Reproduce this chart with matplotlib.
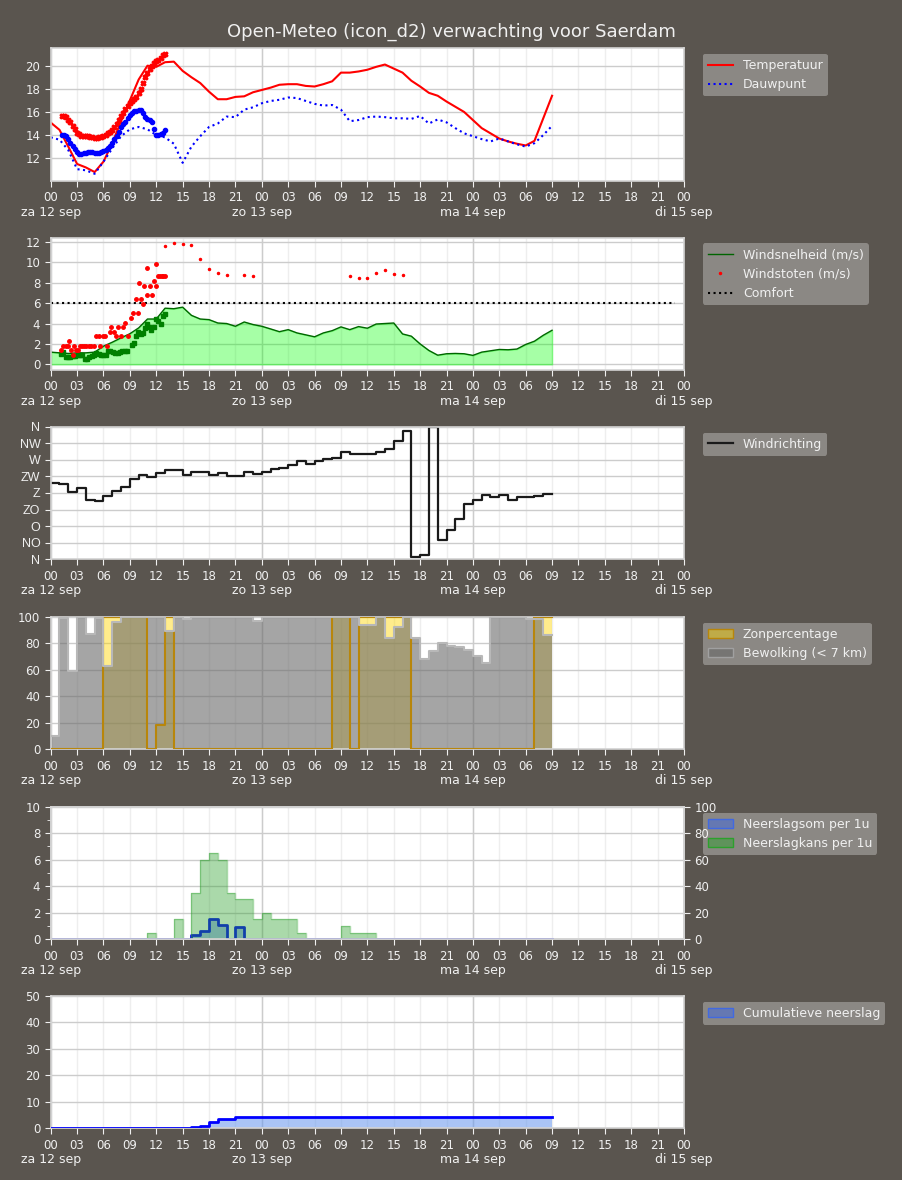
import numpy as np
import matplotlib.pyplot as plt
from matplotlib.patches import Patch

plt.rcParams['font.family'] = 'DejaVu Sans'

BG = '#5a554f'
FG = '#f0f0f0'

# hourly forecast, 12 sep 00:00 .. 14 sep 09:00
hours = np.arange(58)

temperature = [15.08, 14.45, 13.0, 11.5, 11.2, 10.8, 11.7, 13.3, 15.2, 17.0,
               18.8, 20.0, 19.9, 20.3, 20.35, 19.55, 19.0, 18.5, 17.75, 17.1,
               17.1, 17.3, 17.35, 17.7, 17.9, 18.1, 18.35, 18.4, 18.4, 18.25,
               18.2, 18.4, 18.65, 19.4, 19.4, 19.5, 19.65, 19.9, 20.1, 19.75,
               19.4, 18.7, 18.2, 17.65, 17.4, 16.9, 16.45, 16.0, 15.3, 14.6,
               14.15, 13.7, 13.45, 13.25, 13.1, 13.5, 15.45, 17.4]
dewpoint = [13.8, 13.6, 12.7, 11.05, 10.95, 10.65, 11.7, 12.85, 13.9, 14.5,
            14.7, 14.5, 14.0, 13.8, 13.25, 11.6, 13.0, 13.9, 14.7, 15.0,
            15.6, 15.55, 16.2, 16.4, 16.75, 16.95, 17.05, 17.25, 17.2, 16.95,
            16.7, 16.55, 16.6, 16.2, 15.2, 15.3, 15.55, 15.6, 15.55, 15.45,
            15.45, 15.4, 15.65, 15.0, 15.35, 15.1, 14.6, 14.15, 13.9, 13.65,
            13.45, 13.7, 13.45, 13.2, 13.0, 13.3, 14.0, 14.8]

# observations (every 15 min)
obs_hours = np.arange(1.25, 13.01, 0.25)
obs_temp = [15.65, 15.65, 15.55, 15.3, 15.1, 14.8, 14.5, 14.2,
            14.05, 13.9, 13.9, 13.9, 13.9, 13.8, 13.8, 13.75,
            13.75, 13.8, 13.8, 13.9, 14.0, 14.15, 14.25, 14.45,
            14.7, 14.95, 15.3, 15.65, 15.95, 16.25, 16.5, 16.75,
            16.95, 17.15, 17.3, 17.6, 17.95, 18.5, 19.0, 19.4,
            19.7, 20.0, 20.25, 20.4, 20.5, 20.7, 20.9, 21.0]
obs_dew = [14.0, 14.0, 13.9, 13.65, 13.35, 13.05, 12.8, 12.5,
           12.35, 12.4, 12.45, 12.45, 12.5, 12.55, 12.5, 12.45,
           12.45, 12.45, 12.5, 12.6, 12.7, 12.85, 13.05, 13.3,
           13.65, 13.95, 14.3, 14.7, 14.95, 15.15, 15.45, 15.75,
           15.95, 16.05, 16.1, 16.15, 16.15, 15.95, 15.55, 15.35,
           15.3, 15.15, 14.5, 14.0, 14.0, 14.1, 14.2, 14.45]

wind_speed = [1.2, 1.13, 1.07, 1.13, 1.13, 1.2, 1.78, 2.17, 2.6, 3.0,
              3.57, 4.44, 4.44, 5.5, 5.45, 5.6, 4.8, 4.44, 4.38, 4.05,
              4.0, 3.73, 4.15, 3.9, 3.73, 3.47, 3.2, 3.4, 3.08, 2.89,
              2.7, 3.08, 3.3, 3.67, 3.4, 3.7, 3.54, 3.95, 4.0, 4.05,
              2.98, 2.76, 2.0, 1.36, 0.9, 1.04, 1.07, 1.04, 0.88, 1.2,
              1.33, 1.46, 1.43, 1.5, 1.95, 2.27, 2.85, 3.34]
gust_hours = [13, 14, 15, 16, 17, 18, 19, 20, 22, 23, 34, 35, 36, 37, 38, 39, 40]
gusts = [11.55, 11.84, 11.74, 11.65, 10.28, 9.3, 8.92, 8.72, 8.72, 8.63,
         8.63, 8.43, 8.43, 8.92, 9.21, 8.85, 8.72]
comfort_hours = np.arange(72)
comfort_level = 6.0

obs_wind_hours = [1.18, 1.45, 1.72, 1.98, 2.25, 2.52, 2.79, 3.05, 3.32, 3.59,
                  3.85, 4.12, 4.39, 4.66, 4.92, 5.19, 5.46, 5.73, 5.99, 6.26,
                  6.53, 6.79, 7.06, 7.33, 7.6, 7.86, 8.13, 8.4, 8.66, 9.2,
                  9.47, 9.69, 9.96, 10.23, 10.5, 10.69, 10.95, 11.18, 11.45, 11.72,
                  11.98, 12.21, 12.52, 12.75, 13.02]
obs_wind = [0.97, 1.2, 0.75, 0.75, 0.75, 0.81, 0.81, 0.88, 0.94, 0.94,
            0.55, 0.55, 0.68, 0.81, 0.94, 1.13, 1.04, 0.94, 0.94, 0.94,
            1.3, 1.3, 1.2, 1.07, 1.07, 1.2, 1.3, 1.3, 1.3, 1.85,
            2.1, 2.76, 3.15, 3.0, 3.08, 3.54, 3.95, 3.7, 3.4, 3.65,
            4.44, 4.2, 3.95, 4.77, 4.96]
obs_gust_hours = [1.2, 1.45, 1.7, 1.95, 2.1, 2.35, 2.5, 2.7, 2.9, 3.1,
                  3.3, 3.55, 3.8, 4.05, 4.3, 4.55, 4.95, 5.2, 5.5, 5.65,
                  5.9, 6.2, 6.45, 6.7, 6.9, 7.15, 7.45, 7.7, 7.95, 8.2,
                  8.45, 8.75, 9.15, 9.4, 9.65, 9.95, 10.0, 10.25, 10.5, 10.65,
                  10.9, 10.95, 11.25, 11.5, 11.7, 11.95, 12.0, 12.15, 12.4, 12.6,
                  12.8, 13.0]
obs_gust = [1.45, 1.8, 1.8, 1.8, 2.3, 1.45, 0.95, 1.8, 1.45, 1.45,
            1.8, 1.8, 1.8, 1.8, 1.8, 1.8, 1.8, 2.75, 2.75, 1.8,
            2.75, 2.75, 1.8, 3.2, 3.65, 3.2, 2.75, 3.65, 2.75, 3.65,
            4.05, 2.75, 4.55, 5.0, 6.4, 5.0, 8.0, 6.4, 5.9, 7.7,
            9.45, 6.8, 7.7, 6.8, 8.15, 9.8, 7.7, 8.65, 8.65, 8.65,
            8.65, 8.65]

wind_dir = [207, 204, 182, 193, 160, 157, 173, 184, 195, 219,
            228, 224, 233, 241, 241, 230, 236, 236, 230, 233,
            225, 227, 236, 231, 236, 246, 249, 255, 267, 260,
            267, 271, 275, 290, 285, 287, 287, 290, 300, 320,
            348, 5, 11, 359, 52, 79, 109, 151, 160, 175,
            168, 175, 162, 170, 170, 173, 176, 177]
dir_labels = ['N', 'NO', 'O', 'ZO', 'Z', 'ZW', 'W', 'NW', 'N']

sun_pct = [0, 0, 0, 0, 0, 0, 100, 100, 100, 100,
           100, 0, 18, 100, 0, 0, 0, 0, 0, 0,
           0, 0, 0, 0, 0, 0, 0, 0, 0, 0,
           0, 0, 100, 100, 0, 100, 100, 100, 100, 100,
           100, 0, 0, 0, 0, 0, 0, 0, 0, 0,
           0, 0, 0, 0, 0, 100, 100, 100]
cloud_pct = [10, 99, 59, 100, 87, 99, 63, 96, 100, 100,
             100, 100, 100, 89, 100, 98, 100, 100, 100, 100,
             100, 100, 100, 97, 100, 100, 100, 100, 100, 100,
             100, 100, 100, 100, 100, 94, 94, 100, 84, 92,
             100, 84, 68, 74, 80, 78, 77, 75, 70, 65,
             100, 100, 100, 100, 98, 98, 86, 86]

precip = [0, 0, 0, 0, 0, 0, 0, 0, 0, 0,
          0, 0, 0, 0, 0, 0, 0.3, 0.6, 1.5, 1.1,
          0, 0.9, 0, 0, 0, 0, 0, 0, 0, 0,
          0, 0, 0, 0, 0, 0, 0, 0, 0, 0,
          0, 0, 0, 0, 0, 0, 0, 0, 0, 0,
          0, 0, 0, 0, 0, 0, 0, 0]
precip_chance = [0, 0, 0, 0, 0, 0, 0, 0, 0, 0,
                 0, 5, 0, 0, 15, 0, 35, 60, 65, 60,
                 35, 30, 30, 15, 20, 15, 15, 15, 5, 0,
                 0, 0, 0, 10, 5, 5, 5, 0, 0, 0,
                 0, 0, 0, 0, 0, 0, 0, 0, 0, 0,
                 0, 0, 0, 0, 0, 0, 0, 0]
precip_cum = [0, 0, 0, 0, 0, 0, 0, 0, 0, 0,
              0, 0, 0, 0, 0, 0, 0.3, 0.9, 2.4, 3.5,
              3.5, 4.4, 4.4, 4.4, 4.4, 4.4, 4.4, 4.4, 4.4, 4.4,
              4.4, 4.4, 4.4, 4.4, 4.4, 4.4, 4.4, 4.4, 4.4, 4.4,
              4.4, 4.4, 4.4, 4.4, 4.4, 4.4, 4.4, 4.4, 4.4, 4.4,
              4.4, 4.4, 4.4, 4.4, 4.4, 4.4, 4.4, 4.4]

hour_ticks = np.arange(0, 73, 3)
hour_labels = ['%02d' % (h % 24) for h in hour_ticks]
day_ticks = [0, 24, 48, 72]
day_labels = ['za 12 sep', 'zo 13 sep', 'ma 14 sep', 'di 15 sep']

W, H = 902, 1180
fig = plt.figure(figsize=(W / 100, H / 100), dpi=100, facecolor=BG)
fig.text(0.5, 1 - 32 / H, 'Open-Meteo (icon_d2) verwachting voor Saerdam',
         ha='center', va='center', fontsize=13, color=FG)

panel_tops = [48, 237.5, 426.7, 616.7, 806.7, 995.7]
axes = []
for top in panel_tops:
    axes.append(fig.add_axes([50.7 / W, 1 - (top + 132.5) / H, 633.3 / W, 132.5 / H]))


def style(ax, ylim, yticks):
    ax.set_facecolor('white')
    ax.set_xlim(0, 72)
    ax.set_ylim(*ylim)
    ax.set_yticks(yticks)
    ax.set_xticks(hour_ticks)
    ax.set_xticklabels(hour_labels)
    ax.set_xticks(day_ticks, minor=True)
    ax.set_xticklabels(day_labels, minor=True)
    ax.xaxis.remove_overlapping_locs = False
    ax.tick_params(which='both', colors=FG, labelsize=8.5, length=4)
    ax.tick_params(axis='x', which='minor', length=0, pad=18, labelsize=9)
    ax.tick_params(axis='y', which='minor', length=3)
    ax.grid(axis='y', color='#cccccc', lw=1)
    ax.grid(axis='x', which='major', color='#eeeeee', lw=1)
    ax.grid(axis='x', which='minor', color='#cccccc', lw=1)
    ax.set_axisbelow(True)
    for s in ax.spines.values():
        s.set_color('#d4d4d4')
        s.set_linewidth(1.2)


def legend(ax, handles=None, labels=None):
    kw = dict(loc='upper left', bbox_to_anchor=(1.03, 0.955), borderaxespad=0,
              fontsize=9, facecolor='white', framealpha=0.3, edgecolor='none',
              labelcolor=FG)
    if handles is None:
        return ax.legend(**kw)
    return ax.legend(handles, labels, **kw)


# 1 temperature
ax = axes[0]
style(ax, (10.07, 21.53), [12, 14, 16, 18, 20])
ax.plot(hours, temperature, color='red', lw=1.5, label='Temperatuur')
ax.plot(hours, dewpoint, color='blue', lw=1.5, ls=':', label='Dauwpunt')
ax.plot(obs_hours, obs_temp, ls='none', marker='X', ms=3.5, color='red')
ax.plot(obs_hours, obs_dew, ls='none', marker='o', ms=3, color='blue')
legend(ax)

# 2 wind
ax = axes[1]
style(ax, (-0.55, 12.42), np.arange(0, 13, 2))
ax.fill_between(hours, wind_speed, color='lime', alpha=0.35)
ax.plot(hours, wind_speed, color='darkgreen', lw=1, label='Windsnelheid (m/s)')
ax.plot(gust_hours, gusts, ls='none', marker='.', ms=3, color='red', label='Windstoten (m/s)')
ax.plot(comfort_hours, np.full(len(comfort_hours), comfort_level), color='black', ls=':',
        lw=1.5, label='Comfort')
ax.plot(obs_wind_hours, obs_wind, ls='none', marker='s', ms=2.5, color='green')
ax.plot(obs_gust_hours, obs_gust, ls='none', marker='o', ms=2.5, color='red')
legend(ax)

# 3 wind direction
ax = axes[2]
style(ax, (0, 360), np.arange(0, 361, 45))
ax.set_yticklabels(dir_labels, family='Liberation Sans', fontsize=9)
ax.step(hours, wind_dir, where='post', color='#1a1a1a', lw=1.6, label='Windrichting')
legend(ax)

# 4 sun / clouds
ax = axes[3]
style(ax, (0, 100), np.arange(0, 101, 20))
ax.fill_between(hours, sun_pct, step='post', color='gold', alpha=0.45, lw=0)
ax.fill_between(hours, cloud_pct, step='post', color='dimgray', alpha=0.6, lw=0)
ax.step(hours, sun_pct, where='post', color='darkgoldenrod', lw=1.5, zorder=3)
ax.step(hours, cloud_pct, where='post', color='#b8b8b8', lw=1.5, zorder=3)
legend(ax, [Patch(facecolor=(1, 0.84, 0, 0.45), edgecolor='darkgoldenrod'),
            Patch(facecolor=(0.41, 0.41, 0.41, 0.6), edgecolor='#a0a0a0')],
       ['Zonpercentage', 'Bewolking (< 7 km)'])

# 5 precipitation per hour
ax = axes[4]
style(ax, (0, 10), np.arange(0, 11, 2))
ax.set_yticks([1, 3, 5, 7, 9], minor=True)
ax.fill_between(hours, precip, step='post', color='royalblue', alpha=0.45, lw=0)
ax.step(hours, precip, where='post', color='blue', lw=2, zorder=3)
ax2 = ax.twinx()
ax2.set_ylim(0, 100)
ax2.set_yticks(np.arange(0, 101, 20))
ax2.tick_params(colors=FG, labelsize=8.5, length=4)
for s in ax2.spines.values():
    s.set_color('#d4d4d4')
    s.set_linewidth(1.2)
ax2.fill_between(hours, precip_chance, step='post', color='#2ca02c', alpha=0.4, lw=0)
ax2.step(hours, precip_chance, where='post', color='#2ca02c', alpha=0.4, lw=1)
legend(ax2, [Patch(facecolor=(0.25, 0.41, 0.88, 0.5), edgecolor='royalblue'),
             Patch(facecolor=(0.17, 0.63, 0.17, 0.45), edgecolor='#2ca02c')],
       ['Neerslagsom per 1u', 'Neerslagkans per 1u'])

# 6 cumulative precipitation
ax = axes[5]
style(ax, (0, 50), np.arange(0, 51, 10))
ax.fill_between(hours, precip_cum, step='post', color='cornflowerblue', alpha=0.55, lw=0)
ax.step(hours, precip_cum, where='post', color='blue', lw=2, zorder=3)
legend(ax, [Patch(facecolor=(0.25, 0.41, 0.88, 0.5), edgecolor='royalblue')],
       ['Cumulatieve neerslag'])

fig.savefig('out.png', dpi=100, facecolor=BG)
